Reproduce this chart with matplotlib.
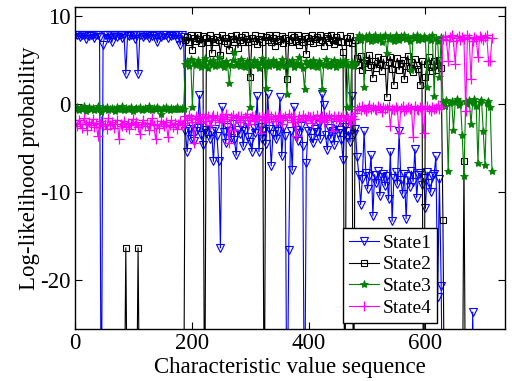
import numpy as np
import matplotlib
matplotlib.use("Agg")
import matplotlib.pyplot as plt

plt.rcParams['font.family'] = ['Liberation Serif', 'DejaVu Serif']
plt.rcParams['axes.unicode_minus'] = False

# log-likelihood of each state model, sampled every 3rd point of the sequence
# (-40 = far below the visible range)
state1 = [
    7.9, 7.8, 7.9, 7.6, 7.9, 7.8, 7.4, 7.9, 7.7, 7.9,
    7.8, 7.5, 7.9, 7.8, 7.6, -40, 6.7, 7.9, 7.8, 7.5,
    7.9, 7.0, 7.8, 7.9, 7.6, 7.9, 7.8, 7.5, 7.9, 3.4,
    7.9, 7.7, 7.9, 7.8, 7.4, 7.9, 3.4, 7.8, 7.9, 7.6,
    7.9, 7.8, 7.5, 7.9, 7.7, 7.9, 7.8, 7.0, 7.9, 7.6,
    7.9, 7.8, 7.9, 7.5, 7.9, 7.7, 7.8, 7.9, 7.4, 7.9,
    6.7, 7.8, 7.6,
    -3.0, -5.4, -2.8, -3.9, -2.5, -4.2, -3.1, -2.7, 1.0, -3.5,
    -4.6, -2.9, -3.3, -2.4, -4.0, -3.1, -6.5, -2.8, -3.6, -6.5,
    -16.3, -0.3, -3.2, -4.4, -2.6, -3.0, -3.8, -2.3, -4.1, -5.8,
    -2.9, -3.4, -2.5, -4.8, -3.0, -2.2, -3.7, -4.3, -5.4, -2.7,
    -3.3, 0.9, -5.4, -2.6, -3.9, -3.1, -4.5, 1.1, -2.8, -7.0,
    -3.4, -2.4, -4.0, -3.0, 0.8, -5.9, -2.7, -3.6, -40, -16.5,
    -3.1, -7.5, -0.3, -2.9, -4.2, -3.3, -2.5, -4.7, -40, -6.7,
    -3.0, -2.6, -3.8, -4.4, -2.8, -3.2, -2.3, -4.0, 1.1, -0.1,
    -3.5, -5.2, -2.7, -3.9, -3.0, -4.6, -2.4, -3.3, -2.9, -4.1,
    -6.3, -2.6, -3.7, -3.1, -4.3, 0.9, -3.4, -2.8,
    -6.0, -8.0, -11.4, -8.5, -3.1, -7.8, -9.6, -8.2, -5.8, -12.7,
    -8.0, -9.0, -7.6, -10.4, -8.3, -7.9, -9.3, -8.1, -10.8, -5.4,
    -13.3, -8.4, -7.7, -9.1, -3.1, -8.6, -10.2, -7.9, -13.0, -8.2,
    -9.4, -7.6, -8.8, -5.1, -10.6, -8.0, -7.8, -9.2, -8.4, -11.8,
    -7.7, -8.9, -10.0, -8.1, -7.9, -5.9, -21.9, -8.5, -20.6,
    -40, -40, -40, -40, -40, -40, -40, -40, -40, -40,
    -40, -40, -40, -40, -40, -40, -40, -23.6, -40, -40,
    -40, -40, -40, -40, -40, -40, -40, -40, -40,
]

state2 = [
    -40, -40, -40, -40, -40, -40, -40, -40, -40, -40,
    -40, -40, -40, -40, -40, -40, -40, -40, -40, -40,
    -40, -40, -40, -40, -40, -40, -40, -40, -40, -16.3,
    -40, -40, -40, -40, -40, -40, -16.3, -40, -40, -40,
    -40, -40, -40, -40, -40, -40, -40, -40, -40, -40,
    -40, -40, -40, -40, -40, -40, -40, -40, -40, -40,
    -40, -40, -40,
    7.3, 7.6, 7.0, 7.8, 6.2, 7.5, 7.2, 7.9, 7.4, 6.9,
    7.7, -40, 7.5, 7.1, 7.8, 5.8, 7.4, 7.0, 7.6, 7.3,
    5.6, 7.8, 7.2, 7.5, 6.9, 6.2, 7.7, 7.4, 7.0, 7.8,
    6.4, 7.3, 7.6, 7.1, 7.9, 7.4, 7.0, 3.1, 7.5, 7.2,
    7.8, 6.8, 7.4, 7.7, 7.1, -40, 7.6, 7.3, 7.9, 7.0,
    7.5, 6.6, 7.8, 7.2, 7.4, 7.7, 6.9, 7.5, 2.8, 7.3,
    7.8, 7.0, 7.6, 7.2, 7.9, 6.7, 7.4, 7.1, 7.7, 5.7,
    7.5, 7.2, 7.8, 6.9, 7.4, 7.6, 7.0, 7.8, 7.3, 6.6,
    7.5, 7.7, 7.1, 7.9, 7.3, 6.8, 7.6, 7.2, 7.8, 7.0,
    5.9, -40, 7.5, 7.1, 7.7, 6.9, -40, 7.3,
    5.2, 4.4, 5.5, 3.9, 4.7, 5.0, 4.2, 5.6, 4.5, 3.0,
    4.9, 4.1, 5.3, 4.6, 3.8, 5.1, 4.4, 0.8, 4.8, 5.4,
    4.0, 2.2, 4.6, 5.2, 3.9, 4.7, 5.0, 2.8, 4.3, 5.5,
    4.1, 4.8, 3.7, 5.1, 4.5, 4.0, 2.2, 4.9, -40, 3.1,
    4.6, 5.3, 4.2, 3.8, 4.9, 3.9, 4.4, 5.0, 4.1,
    -13.1, -40, -40, -40, -40, -40, -40, -40, -40, -40,
    -40, -40, -6.5, -40, -40, -40, -40, -40, -40, -40,
    -40, -40, -40, -40, -40, -40, -40, -40, -40,
]

state3 = [
    -0.5, -0.3, -0.7, -0.4, -0.6, -0.2, -0.8, -0.5, -0.3, -0.6,
    -0.4, -0.7, -0.5, -0.2, -0.6, -0.9, -0.4, -0.5, -0.3, -0.7,
    -0.6, -0.4, -0.5, -0.8, -0.3, -0.6, -0.5, -0.2, -0.7, -0.4,
    -0.5, -0.6, -0.3, -0.8, -0.5, -0.4, -0.6, -0.3, -0.7, -0.5,
    -0.4, -0.6, -0.2, -0.5, -0.7, -0.4, -0.6, -0.3, -0.5, -1.1,
    -0.4, -0.6, -0.3, -0.5, -0.7, -0.4, -0.6, -0.5, -0.3, -0.6,
    -0.5, -0.4, -0.6,
    4.6, 4.9, 4.3, 5.1, -0.3, 4.7, 4.4, 5.0, 4.6, 4.2,
    4.8, 5.2, 4.5, 4.1, 4.9, 4.6, 5.0, 4.3, 4.7, 5.3,
    4.5, 4.8, 4.2, 4.9, 4.6, 2.4, 4.4, 5.0, 5.9, 4.5,
    4.8, 4.3, 5.1, 4.6, 4.2, 4.9, 4.7, -0.3, 4.5, 5.0,
    4.4, 4.8, 4.1, 4.7, 5.2, 4.5, 1.8, 4.9, 4.3, 4.6,
    5.0, 4.4, 4.8, 4.2, 4.7, 5.1, 4.5, 4.3, 1.2, 4.8,
    4.6, 5.0, 4.2, 4.7, 4.4, 5.3, 4.6, 4.1, 1.7, 4.9,
    4.5, 4.8, 4.3, 5.0, 4.6, 4.2, 4.9, 4.7, 1.7, 4.4,
    5.1, 4.6, 4.3, 4.8, 4.5, 5.0, 4.2, 4.7, 4.9, 4.4,
    4.6, 5.0, -0.3, 4.5, -0.3, 4.8, 4.3, 4.7,
    7.5, 7.8, 7.3, 7.6, 2.0, 7.7, 7.4, 7.9, 7.2, 7.6,
    7.8, 7.3, 7.5, 7.7, 7.1, 7.6, 7.9, 5.8, 7.4, 7.7,
    7.5, 7.2, 7.8, 7.6, 7.3, 7.7, 7.5, 7.9, 7.4, 7.6,
    7.2, 3.9, 7.7, 7.5, 7.8, 7.3, 7.6, 7.4, 7.7, 7.5,
    2.0, 7.6, 7.3, 7.8, 0.9, 7.5, 7.2, 3.1, 7.6,
    0.3, -0.2, 0.5, -7.6, 0.1, 0.4, -2.9, 0.2, 0.6, -0.1,
    0.3, -3.5, -8.2, 0.4, 0.0, 0.5, -2.2, 0.2, 0.6, -0.2,
    -6.7, 0.3, 0.5, -3.0, -6.9, 0.1, 0.4, -0.3, -7.6,
]

state4 = [
    -2.1, -2.5, -1.8, -2.3, -2.7, -1.6, -2.2, -2.9, -2.0, -2.4,
    -1.7, -2.6, -2.1, -3.6, -2.3, -1.9, -2.5, -2.2, -2.8, -1.6,
    -2.4, -2.0, -2.7, -2.3, -1.8, -3.9, -2.2, -2.5, -1.9, -2.6,
    -2.1, -2.8, -2.3, -1.7, -2.4, -2.0, -2.6, -3.4, -2.2, -1.8,
    -2.5, -2.1, -2.9, -2.3, -1.6, -2.4, -4.0, -2.2, -2.7, -1.9,
    -2.3, -2.5, -2.0, -3.7, -2.4, -1.8, -2.6, -2.1, -2.8, -2.3,
    -1.9, -2.4, -2.1,
    -1.4, -1.8, -1.2, -1.6, -2.0, -4.4, -1.3, -1.7, -1.5, -2.1,
    -1.1, -1.6, -1.9, -1.3, -2.4, -1.5, -1.2, -1.8, -1.4, -2.0,
    -1.6, -1.3, -1.9, -1.1, -1.7, -4.4, -1.5, -1.2, -2.9, -1.6,
    -1.4, -2.0, -1.3, -1.8, -1.5, -1.1, -2.2, -1.6, -1.4, -1.9,
    -1.2, -1.7, -1.5, -3.3, -1.3, -1.8, -1.6, -1.1, -2.0, -1.4,
    -1.7, -1.3, -1.9, -1.5, -1.2, -2.3, -1.6, -1.4, -1.8, -1.1,
    -1.5, -2.0, -1.3, -3.6, -1.7, -1.4, -1.9, -1.2, -1.6, -1.8,
    -1.3, -1.5, -2.1, -1.4, -1.7, -1.2, -1.9, -1.6, -1.3, -2.0,
    -1.5, -1.8, -1.2, -1.6, -3.0, -1.4, -1.7, -1.3, -1.9, -1.5,
    -1.2, -1.8, -1.4, -1.6, -2.2, -1.3, -1.7, -1.0,
    -0.6, -0.3, -0.7, -0.2, -0.5, -0.8, -0.4, -0.1, -0.6, -0.3,
    -0.5, -0.7, -0.2, -0.4, -0.9, -0.3, -0.6, -0.4, -0.2, -2.5,
    -0.5, -0.7, -0.3, -0.6, -3.3, -0.4, -0.2, -0.8, -0.5, -0.3,
    -0.6, -0.4, -3.7, -0.2, -0.5, -0.7, -0.3, -0.6, -3.3, -0.4,
    -0.2, -0.5, -0.8, -0.3, -0.6, -0.4, -0.1, -0.5, -0.3,
    7.4, 7.7, 7.3, 4.9, 7.6, 7.8, 7.2, 4.6, 7.5, 7.7,
    7.3, 7.6, 7.4, -0.8, 7.8, 7.5, 2.8, 7.2, 7.6, 7.4,
    5.3, 7.7, 7.5, 7.3, 7.6, 7.8, 4.9, 4.9, 7.5,
]

labels = ['State1', 'State2', 'State3', 'State4']
step = 3

fig = plt.figure(figsize=(5.12, 3.81), dpi=100)
ax = fig.add_axes([0.1465, 0.137, 0.8395, 0.844])

styles = [
    dict(color='#0000ff', marker='v', ms=6, mfc='none', mew=0.8),
    dict(color='black', marker='s', ms=5, mfc='none', mew=0.8),
    dict(color='#008000', marker='*', ms=6, mew=0.6),
    dict(color='#ff00ff', marker='+', ms=7, mew=0.9),
]
for vals, lab, st in zip([state1, state2, state3, state4], labels, styles):
    x = np.arange(len(vals)) * step
    ax.plot(x, vals, lw=0.8, label=lab, **st)

ax.set_xlim(0, 736)
ax.set_ylim(-25.5, 11)
ax.set_xticks([0, 200, 400, 600])
ax.set_yticks([-20, -10, 0, 10])
ax.tick_params(direction='in', top=True, right=True, length=5, width=0.8,
               labelsize=16.5, pad=3)
for sp in ax.spines.values():
    sp.set_linewidth(1.0)

ax.set_xlabel('Characteristic value sequence', fontsize=16.5, labelpad=2)
ax.set_ylabel('Log-likelihood probability', fontsize=16.5, labelpad=0)

leg = ax.legend(loc='lower left', bbox_to_anchor=(0.623, 0.018), fontsize=14,
                fancybox=False, framealpha=1, edgecolor='black',
                borderpad=0.3, labelspacing=0.22, handlelength=1.55,
                handletextpad=0.2, borderaxespad=0)
leg.get_frame().set_linewidth(1.0)

fig.savefig('out.png', dpi=100)
